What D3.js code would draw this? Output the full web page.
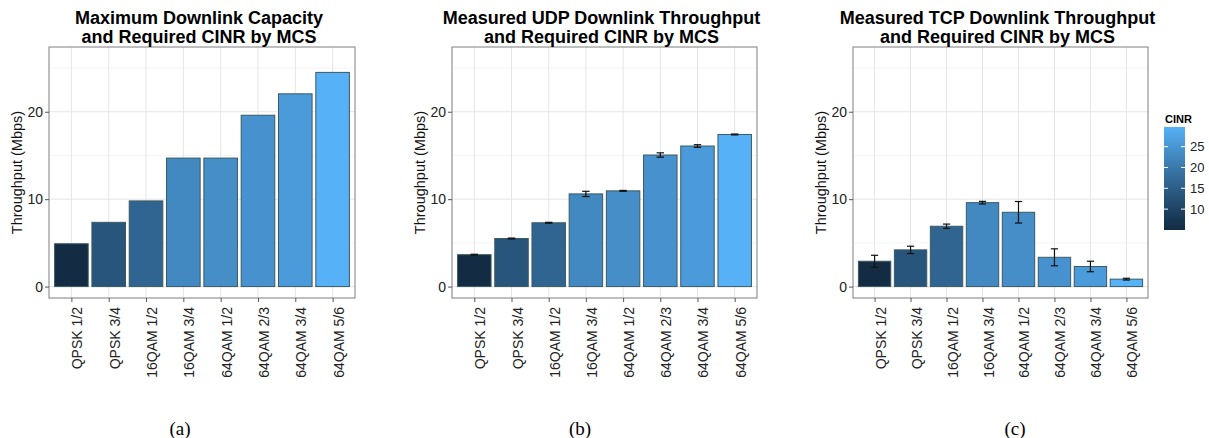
<!DOCTYPE html>
<html>
<head>
<meta charset="utf-8">
<script src="https://cdn.jsdelivr.net/npm/d3@7"></script>
<style>
  body { margin: 0; background: #fff; }
  text { font-family: "Liberation Sans", Arial, Helvetica, sans-serif; }
</style>
</head>
<body>
<div id="chart"></div>
<script>
// data
var mcs = ["QPSK 1/2", "QPSK 3/4", "16QAM 1/2", "16QAM 3/4", "64QAM 1/2", "64QAM 2/3", "64QAM 3/4", "64QAM 5/6"];
var cinr = [5.7, 13.7, 16.4, 22.5, 23.4, 24.1, 25.5, 29.0];
var capacity = [4.9, 7.35, 9.8, 14.7, 14.7, 19.6, 22.05, 24.5];
var udpMean = [3.65, 5.5, 7.3, 10.6, 10.95, 15.05, 16.08, 17.4];
var udpErr = [0.05, 0.05, 0.05, 0.3, 0.05, 0.25, 0.15, 0.05];
var tcpMean = [2.9, 4.2, 6.9, 9.6, 8.5, 3.35, 2.3, 0.85];
var tcpErr = [0.68, 0.42, 0.25, 0.15, 1.23, 0.97, 0.6, 0.1];
var yTicks = [0, 10, 20];
var yMinorTicks = [5, 15, 25];
var cinrTicks = [10, 15, 20, 25];
var titles = [
    ["Maximum Downlink Capacity", "and Required CINR by MCS"],
    ["Measured UDP Downlink Throughput", "and Required CINR by MCS"],
    ["Measured TCP Downlink Throughput", "and Required CINR by MCS"]
];
var captions = ["(a)", "(b)", "(c)"];

var width = 1209, height = 438;

var svg = d3.select("#chart").append("svg")
    .attr("width", width)
    .attr("height", height);

// y limits [0, 26.1] with ggplot's 5% expansion
var yLim = [0, 26.1];
var yPad = (yLim[1] - yLim[0]) * 0.05;

var fillScale = d3.scaleLinear()
    .domain(d3.extent(cinr))
    .range(["#132B43", "#56B1F7"])
    .interpolate(d3.interpolateLab);

var panels = [
    {left: 49, right: 355, values: capacity, errors: null, captionX: 180},
    {left: 452, right: 757, values: udpMean, errors: udpErr, captionX: 580},
    {left: 853, right: 1148, values: tcpMean, errors: tcpErr, captionX: 1015}
];
var plotTop = 47, plotBottom = 298;

panels.forEach(function(p, i){
    var g = svg.append("g");

    var x = d3.scalePoint().domain(mcs).range([p.left, p.right]).padding(0.6);
    var step = x.step();
    var y = d3.scaleLinear().domain([yLim[0] - yPad, yLim[1] + yPad]).range([plotBottom, plotTop]);

    // grid
    g.selectAll(".minor").data(yMinorTicks).enter().append("line")
        .attr("x1", p.left).attr("x2", p.right)
        .attr("y1", function(d){ return y(d); }).attr("y2", function(d){ return y(d); })
        .style("stroke", "#F5F5F5").style("stroke-width", 1);
    g.selectAll(".major").data(yTicks).enter().append("line")
        .attr("x1", p.left).attr("x2", p.right)
        .attr("y1", function(d){ return y(d); }).attr("y2", function(d){ return y(d); })
        .style("stroke", "#E5E5E5").style("stroke-width", 1);
    g.selectAll(".vmajor").data(mcs).enter().append("line")
        .attr("x1", function(d){ return x(d); }).attr("x2", function(d){ return x(d); })
        .attr("y1", plotTop).attr("y2", plotBottom)
        .style("stroke", "#E5E5E5").style("stroke-width", 1);

    // bars
    g.selectAll(".bar").data(mcs).enter().append("rect")
        .attr("x", function(d){ return x(d) - step * 0.45; })
        .attr("width", step * 0.9)
        .attr("y", function(d, j){ return y(p.values[j]); })
        .attr("height", function(d, j){ return y(0) - y(p.values[j]); })
        .style("fill", function(d, j){ return fillScale(cinr[j]); })
        .style("stroke", "#3A5A60")
        .style("stroke-width", 1);

    // error bars
    if(p.errors){
        var capW = step * 0.1;
        var eb = g.selectAll(".err").data(mcs).enter().append("g");
        eb.append("line")
            .attr("x1", function(d){ return x(d); }).attr("x2", function(d){ return x(d); })
            .attr("y1", function(d, j){ return y(p.values[j] + p.errors[j]); })
            .attr("y2", function(d, j){ return y(p.values[j] - p.errors[j]); });
        eb.append("line")
            .attr("x1", function(d){ return x(d) - capW; }).attr("x2", function(d){ return x(d) + capW; })
            .attr("y1", function(d, j){ return y(p.values[j] + p.errors[j]); })
            .attr("y2", function(d, j){ return y(p.values[j] + p.errors[j]); });
        eb.append("line")
            .attr("x1", function(d){ return x(d) - capW; }).attr("x2", function(d){ return x(d) + capW; })
            .attr("y1", function(d, j){ return y(p.values[j] - p.errors[j]); })
            .attr("y2", function(d, j){ return y(p.values[j] - p.errors[j]); });
        eb.selectAll("line").style("stroke", "#111").style("stroke-width", 1.2);
    }

    // panel border
    g.append("rect")
        .attr("x", p.left).attr("y", plotTop)
        .attr("width", p.right - p.left).attr("height", plotBottom - plotTop)
        .style("fill", "none").style("stroke", "#7F7F7F").style("stroke-width", 1);

    // axes
    var yAxis = g.append("g")
        .attr("transform", "translate(" + p.left + ",0)")
        .call(d3.axisLeft(y).tickValues(yTicks).tickSize(4).tickPadding(2));
    yAxis.select(".domain").remove();
    yAxis.selectAll("line").style("stroke", "#555");
    yAxis.selectAll("text").style("font-size", "14px").style("fill", "#222")
        .style("font-family", "'Liberation Sans', Arial, sans-serif");

    var xAxis = g.append("g")
        .attr("transform", "translate(0," + plotBottom + ")")
        .call(d3.axisBottom(x).tickSize(4).tickPadding(0));
    xAxis.select(".domain").remove();
    xAxis.selectAll("line").style("stroke", "#555");
    xAxis.selectAll("text")
        .style("font-size", "14px").style("fill", "#222")
        .style("font-family", "'Liberation Sans', Arial, sans-serif")
        .attr("text-anchor", "end")
        .attr("transform", "rotate(-90)")
        .attr("x", -9)
        .attr("y", 0)
        .attr("dy", "0.75em")
        .attr("dx", 0);

    // y label
    g.append("text")
        .attr("transform", "translate(" + (p.left - 27) + "," + ((plotTop + plotBottom) / 2) + ") rotate(-90)")
        .attr("text-anchor", "middle")
        .style("font-size", "14.5px")
        .style("fill", "#111")
        .text("Throughput (Mbps)");

    // title
    var cx = (p.left + p.right) / 2 - 3;
    g.selectAll(".title").data(titles[i]).enter().append("text")
        .attr("x", cx)
        .attr("y", function(d, k){ return 24 + k * 18.5; })
        .attr("text-anchor", "middle")
        .style("font-size", "18px")
        .style("font-weight", "bold")
        .style("fill", "#000")
        .text(function(d){ return d; });

    // caption
    g.append("text")
        .attr("x", p.captionX)
        .attr("y", 435)
        .attr("text-anchor", "middle")
        .style("font-family", "'Liberation Serif', 'Times New Roman', serif")
        .style("font-size", "19px")
        .style("fill", "#000")
        .text(captions[i]);
});

// colourbar legend
var legX = 1164, legW = 21;
var legScale = d3.scaleLinear().domain(d3.extent(cinr)).range([227, 130]);
var defs = svg.append("defs");
var grad = defs.append("linearGradient")
    .attr("id", "cinrGrad")
    .attr("x1", 0).attr("y1", 1).attr("x2", 0).attr("y2", 0);
d3.range(0, 1.0001, 0.1).forEach(function(t){
    grad.append("stop")
        .attr("offset", t)
        .attr("stop-color", fillScale(cinr[0] + t * (d3.max(cinr) - cinr[0])));
});
svg.append("rect")
    .attr("x", legX).attr("y", 127)
    .attr("width", legW).attr("height", 103)
    .style("fill", "url(#cinrGrad)");

var legTicks = svg.append("g");
legTicks.selectAll(".tl").data(cinrTicks).enter().append("line")
    .attr("x1", legX).attr("x2", legX + 4)
    .attr("y1", function(d){ return legScale(d); }).attr("y2", function(d){ return legScale(d); })
    .style("stroke", "#fff").style("stroke-width", 1);
legTicks.selectAll(".tr").data(cinrTicks).enter().append("line")
    .attr("x1", legX + legW - 4).attr("x2", legX + legW)
    .attr("y1", function(d){ return legScale(d); }).attr("y2", function(d){ return legScale(d); })
    .style("stroke", "#fff").style("stroke-width", 1);
legTicks.selectAll(".lab").data(cinrTicks).enter().append("text")
    .attr("x", legX + legW + 5)
    .attr("y", function(d){ return legScale(d); })
    .attr("dy", "0.35em")
    .style("font-size", "13px")
    .style("fill", "#222")
    .text(function(d){ return d; });

svg.append("text")
    .attr("x", legX + 1).attr("y", 123)
    .style("font-size", "11px")
    .style("font-weight", "bold")
    .text("CINR");
</script>
</body>
</html>
